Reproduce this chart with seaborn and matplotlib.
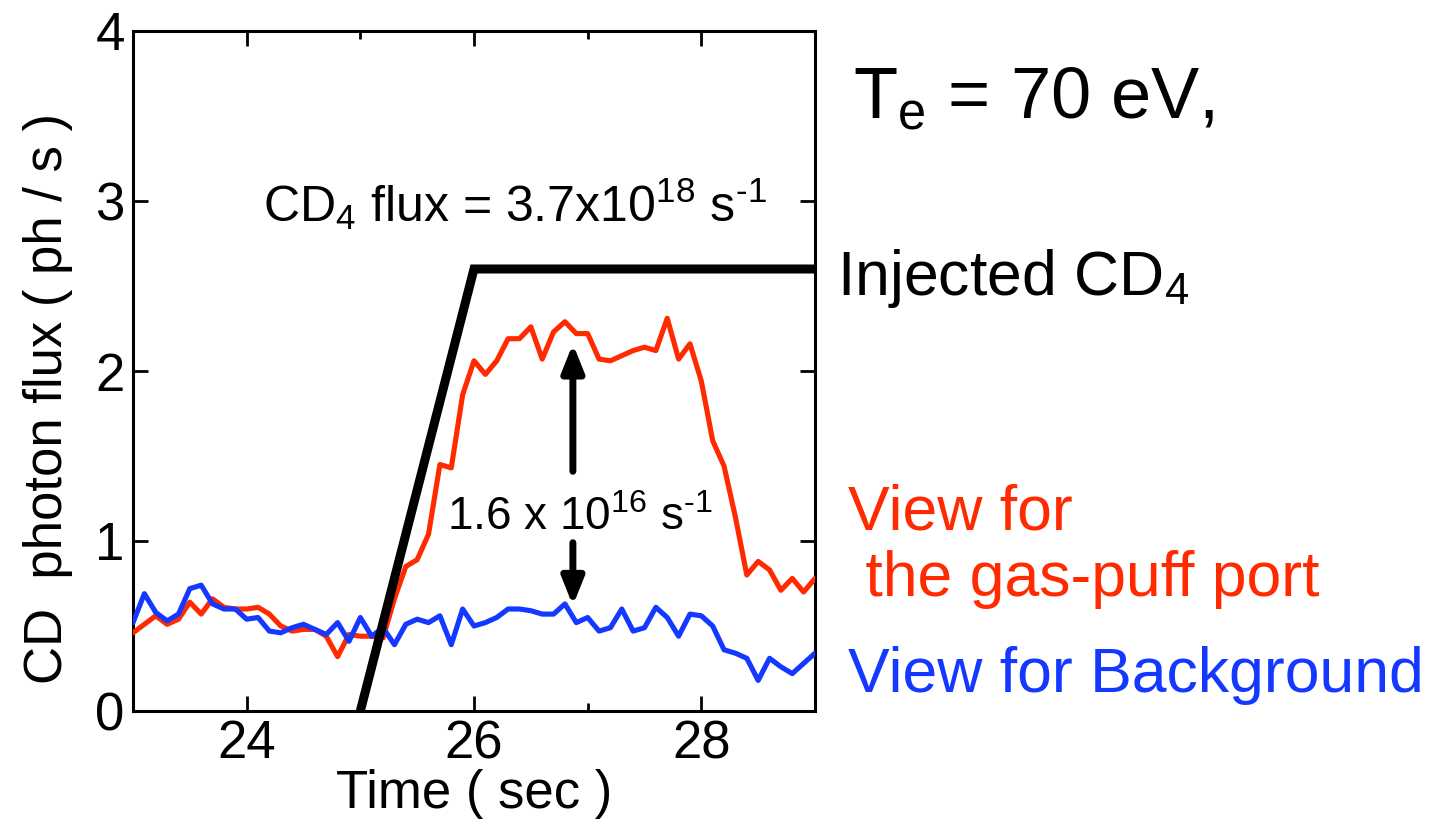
import matplotlib
matplotlib.use("Agg")
import matplotlib.pyplot as plt
import seaborn as sns
import pandas as pd
from matplotlib.ticker import FixedLocator

# ---------------- data ----------------
time_s = [23.0, 23.1, 23.2, 23.3, 23.4, 23.5, 23.6, 23.7, 23.8, 23.9,
          24.0, 24.1, 24.2, 24.3, 24.4, 24.5, 24.6, 24.7, 24.8, 24.9,
          25.0, 25.1, 25.2, 25.3, 25.4, 25.5, 25.6, 25.7, 25.8, 25.9,
          26.0, 26.1, 26.2, 26.3, 26.4, 26.5, 26.6, 26.7, 26.8, 26.9,
          27.0, 27.1, 27.2, 27.3, 27.4, 27.5, 27.6, 27.7, 27.8, 27.9,
          28.0, 28.1, 28.2, 28.3, 28.4, 28.5, 28.6, 28.7, 28.8, 28.9,
          29.0]

gas_puff_view = [0.46, 0.51, 0.56, 0.51, 0.54, 0.64, 0.57, 0.66, 0.61, 0.60,
                 0.60, 0.61, 0.57, 0.50, 0.47, 0.48, 0.48, 0.44, 0.32, 0.45,
                 0.44, 0.44, 0.43, 0.66, 0.85, 0.89, 1.04, 1.45, 1.43, 1.86,
                 2.06, 1.98, 2.06, 2.19, 2.19, 2.26, 2.07, 2.23, 2.29, 2.22,
                 2.22, 2.07, 2.06, 2.09, 2.12, 2.14, 2.12, 2.31, 2.07, 2.16,
                 1.94, 1.59, 1.44, 1.14, 0.80, 0.88, 0.83, 0.71, 0.78, 0.70,
                 0.78]

background_view = [0.52, 0.69, 0.58, 0.53, 0.57, 0.72, 0.74, 0.63, 0.60, 0.60,
                   0.54, 0.55, 0.47, 0.46, 0.49, 0.51, 0.48, 0.45, 0.52, 0.41,
                   0.55, 0.44, 0.49, 0.39, 0.51, 0.54, 0.52, 0.56, 0.39, 0.60,
                   0.50, 0.52, 0.55, 0.60, 0.60, 0.59, 0.57, 0.57, 0.63, 0.52,
                   0.55, 0.47, 0.49, 0.60, 0.47, 0.49, 0.61, 0.55, 0.44, 0.57,
                   0.56, 0.50, 0.36, 0.34, 0.31, 0.18, 0.31, 0.26, 0.22, 0.28,
                   0.34]

inject_time = [25.0, 26.0, 29.0]
inject_level = [0.0, 2.6, 2.6]

x_major_ticks = [24, 26, 28]
x_minor_ticks = [23, 25, 27, 29]
y_ticks = [0, 1, 2, 3, 4]

arrow_time = 26.87
arrow_top = 2.16
arrow_bottom = 0.62

RED = "#ff2a00"
BLUE = "#1438ff"
HY = "\u2010"  # hyphen used in the superscripts, as in the original

# ---------------- style ----------------
sns.set_theme(style="ticks")
plt.rcParams["font.family"] = ["Liberation Sans", "DejaVu Sans"]
plt.rcParams["mathtext.fontset"] = "custom"
plt.rcParams["mathtext.rm"] = "Liberation Sans"
plt.rcParams["mathtext.it"] = "Liberation Sans:italic"
plt.rcParams["mathtext.bf"] = "Liberation Sans:bold"
plt.rcParams["mathtext.default"] = "regular"
plt.rcParams["text.color"] = "black"
plt.rcParams["axes.labelcolor"] = "black"
plt.rcParams["xtick.color"] = "black"
plt.rcParams["ytick.color"] = "black"

W, H = 1448, 822
fig = plt.figure(figsize=(W / 100, H / 100), dpi=100)
ax = fig.add_axes([133 / W, 1 - 711 / H, (815 - 133) / W, (711 - 31) / H])

df = pd.DataFrame({"time": time_s, "gas": gas_puff_view, "bg": background_view})
sns.lineplot(data=df, x="time", y="gas", ax=ax, color=RED, lw=3.7, zorder=3)
sns.lineplot(data=df, x="time", y="bg", ax=ax, color=BLUE, lw=3.7, zorder=4)
sns.lineplot(x=inject_time, y=inject_level, ax=ax, color="black", lw=6.5,
             zorder=5, clip_on=False, solid_joinstyle="miter",
             solid_capstyle="butt")

ax.set_xlim(23, 29)
ax.set_ylim(0, 4)
ax.xaxis.set_major_locator(FixedLocator(x_major_ticks))
ax.xaxis.set_minor_locator(FixedLocator(x_minor_ticks))
ax.yaxis.set_major_locator(FixedLocator(y_ticks))
ax.set_xticklabels([str(t) for t in x_major_ticks])

for s in ax.spines.values():
    s.set_visible(True)
    s.set_linewidth(2.2)
    s.set_color("black")

ax.tick_params(which="major", direction="in", length=11, width=2,
               top=True, right=True, labelsize=38, colors="black")
ax.tick_params(which="minor", direction="in", length=5.5, width=2,
               top=True, right=True, colors="black")
ax.tick_params(axis="y", pad=6)
ax.tick_params(axis="x", pad=6)

ax.set_xlabel("Time ( sec )", fontsize=38, labelpad=0, color="black")
ax.set_ylabel("CD  photon flux ( ph / s )", fontsize=38, color="black",
              va="center", ha="center", rotation_mode="default")
ax.yaxis.set_label_coords((48 - 133) / 682, (711 - 398) / 680)

# arrows (two halves of a double-headed arrow)
arrow_kw = dict(arrowstyle="-|>,head_length=0.55,head_width=0.22",
                color="black", lw=5, mutation_scale=30,
                shrinkA=0, shrinkB=0)
ax.annotate("", xy=(arrow_time, arrow_top), xytext=(arrow_time, 1.41),
            arrowprops=arrow_kw, zorder=6)
ax.annotate("", xy=(arrow_time, arrow_bottom), xytext=(arrow_time, 0.99),
            arrowprops=arrow_kw, zorder=6)

# annotations in the axes
ax.text(25.76, 1.065, "1.6 x 10$^{16}$ s$^{" + HY + "1}$", fontsize=33,
        va="baseline", ha="left", color="black")
ax.text(24.14, 2.876, "CD$_4$ flux = 3.7x10$^{18}$ s$^{" + HY + "1}$",
        fontsize=36, va="baseline", ha="left", color="black")

# texts outside the axes
fig.text(853 / W, 1 - 118 / H, "T$_e$ = 70 eV,", fontsize=52,
         va="baseline", ha="left", color="black")
fig.text(837 / W, 1 - 295 / H, "Injected CD$_4$", fontsize=45,
         va="baseline", ha="left", color="black")
fig.text(848 / W, 1 - 530 / H, "View for", fontsize=45,
         va="baseline", ha="left", color=RED)
fig.text(848 / W, 1 - 596 / H, " the gas-puff port", fontsize=45,
         va="baseline", ha="left", color=RED)
fig.text(848 / W, 1 - 692 / H, "View for Background", fontsize=45,
         va="baseline", ha="left", color=BLUE)

fig.savefig("out.png", dpi=100, facecolor="white")
